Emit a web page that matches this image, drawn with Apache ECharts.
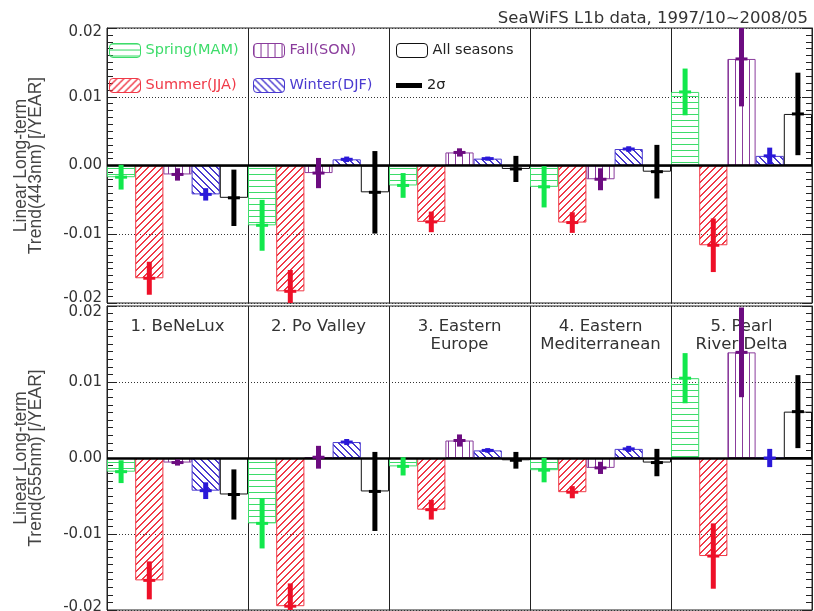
<!DOCTYPE html>
<html><head><meta charset="utf-8">
<script src="https://cdn.jsdelivr.net/npm/echarts@6.0.0/dist/echarts.min.js"></script>
<style>html,body{margin:0;padding:0;background:#fff}#c{width:814px;height:611px}</style>
</head><body><div id="c"></div><script>
// ---------- data ----------
const regions = ['1. BeNeLux', '2. Po Valley', '3. Eastern\nEurope', '4. Eastern\nMediterranean', '5. Pearl\nRiver Delta'];
const seasons = ['Spring(MAM)', 'Summer(JJA)', 'Fall(SON)', 'Winter(DJF)', 'All seasons'];
const sigmaName = '2σ';
const yTicks = [-0.02, -0.01, 0.00, 0.01, 0.02];

// 443 nm trends [/YEAR], one value per region
const t443Spring = [-0.0017, -0.0087, -0.0029, -0.0031, 0.0107];
const t443Summer = [-0.0164, -0.0183, -0.0082, -0.0083, -0.0116];
const t443Fall   = [-0.0013, -0.0011, 0.0019, -0.0020, 0.0155];
const t443Winter = [-0.0042, 0.0009, 0.0010, 0.0024, 0.0014];
const t443All    = [-0.0047, -0.0039, -0.0005, -0.0009, 0.0075];
// 443 nm 2-sigma
const s443Spring = [0.0018, 0.0037, 0.0018, 0.0030, 0.0034];
const s443Summer = [0.0024, 0.0031, 0.0015, 0.0015, 0.0039];
const s443Fall   = [0.0009, 0.0022, 0.0006, 0.0016, 0.0069];
const s443Winter = [0.0009, 0.0004, 0.0003, 0.0004, 0.0012];
const s443All    = [0.0041, 0.0060, 0.0019, 0.0039, 0.0060];

// 555 nm trends [/YEAR]
const t555Spring = [-0.0018, -0.0086, -0.0011, -0.0016, 0.0105];
const t555Summer = [-0.0161, -0.0195, -0.0068, -0.0045, -0.0129];
const t555Fall   = [-0.0006, 0.0001, 0.0023, -0.0013, 0.0139];
const t555Winter = [-0.0043, 0.0021, 0.0010, 0.0012, 0.0000];
const t555All    = [-0.0048, -0.0044, -0.0003, -0.0006, 0.0061];
// 555 nm 2-sigma
const s555Spring = [0.0015, 0.0033, 0.0012, 0.0016, 0.0033];
const s555Summer = [0.0025, 0.0030, 0.0013, 0.0008, 0.0043];
const s555Fall   = [0.0004, 0.0015, 0.0008, 0.0008, 0.0059];
const s555Winter = [0.0011, 0.0004, 0.0003, 0.0004, 0.0012];
const s555All    = [0.0033, 0.0052, 0.0011, 0.0018, 0.0048];

// ---------- styling ----------
const lineColors = ['#3ddc6a', '#f03a48', '#8a3c9c', '#4a3ad0', '#111111'];
const errColors  = ['#12e84c', '#ee1028', '#6c0c80', '#2a18d8', '#000000'];
const hatchKinds = ['h', 'd1', 'v', 'd2', null];
const FONT = 'DejaVu Sans';

// crisp pixel hatch tiles
function pattern(kind, color) {
  const s = kind === 'h' ? 6 : 7;
  const c = document.createElement('canvas');
  c.width = s; c.height = s;
  const g = c.getContext('2d');
  g.fillStyle = color;
  for (let i = 0; i < s; i++) {
    if (kind === 'h') g.fillRect(i, 0, 1, 1);
    else if (kind === 'v') g.fillRect(0, i, 1, 1);
    else if (kind === 'd1') { g.fillRect(i, s - 1 - i, 1, 1); g.fillRect((i + 1) % s, s - 1 - i, 1, 1); }
    else { g.fillRect(i, i, 1, 1); g.fillRect((i + 1) % s, i, 1, 1); }
  }
  return { image: c, repeat: 'repeat' };
}

const trend443 = [t443Spring, t443Summer, t443Fall, t443Winter, t443All];
const sig443 = [s443Spring, s443Summer, s443Fall, s443Winter, s443All];
const trend555 = [t555Spring, t555Summer, t555Fall, t555Winter, t555All];
const sig555 = [s555Spring, s555Summer, s555Fall, s555Winter, s555All];

function barSeries(gi, trend) {
  return seasons.map((name, k) => {
    const s = {
      type: 'bar', name, xAxisIndex: gi, yAxisIndex: gi * 2,
      data: trend[k], barGap: '0%', barCategoryGap: '0%',
      itemStyle: {
        color: k === 4 ? 'rgba(255,255,255,0)' : pattern(hatchKinds[k], lineColors[k]),
        borderColor: lineColors[k], borderWidth: 1
      },
      emphasis: { disabled: true }, silent: true
    };
    if (k === 0) {
      s.markLine = {
        silent: true, symbol: ['none', 'none'], label: { show: false },
        lineStyle: { color: '#000', width: 2.5, type: 'solid' },
        emphasis: { disabled: true },
        data: [{ yAxis: 0 }]
      };
    }
    return s;
  });
}

function errSeries(gi, trend, sig) {
  return seasons.map((name, k) => ({
    type: 'custom', name: k === 4 ? sigmaName : name,
    xAxisIndex: gi, yAxisIndex: gi * 2, z: 6, silent: true,
    itemStyle: { color: errColors[k] },
    data: trend[k].map((v, i) => [i, v - sig[k][i], v + sig[k][i], v]),
    encode: { x: 0, y: [1, 2, 3] },
    renderItem: (params, api) => {
      const i = api.value(0);
      const band = api.size([1, 0])[0];
      const cx = api.coord([i, 0])[0] + (k - 2) * band / 5;
      const yLo = api.coord([i, api.value(1)])[1];
      const yHi = api.coord([i, api.value(2)])[1];
      const yV = api.coord([i, api.value(3)])[1];
      const cs = params.coordSys;
      const box = { x: cs.x, y: cs.y, width: cs.width, height: cs.height };
      const style = { fill: errColors[k] };
      const children = [];
      const r1 = echarts.graphic.clipRectByRect({ x: cx - 2.5, y: yHi, width: 5, height: yLo - yHi }, box);
      if (r1) children.push({ type: 'rect', shape: r1, style });
      const r2 = echarts.graphic.clipRectByRect({ x: cx - 6, y: yV - 1.5, width: 12, height: 3 }, box);
      if (r2) children.push({ type: 'rect', shape: r2, style });
      return { type: 'group', children };
    }
  }));
}

function yAxes(gi, name, padTop, padBot) {
  const tick = { show: true, inside: true, length: 10, lineStyle: { color: '#222' } };
  const minor = { show: true, splitNumber: 10, length: 6, lineStyle: { color: '#222' } };
  const lbl = { fontFamily: FONT, fontSize: 15, color: '#333' };
  return [{
    type: 'value', gridIndex: gi, position: 'left',
    min: yTicks[0], max: yTicks[yTicks.length - 1], interval: 0.01,
    name, nameLocation: 'middle', nameRotate: 90, nameGap: 63,
    nameTextStyle: { fontFamily: 'Liberation Sans', fontSize: 17.5, lineHeight: 15, color: '#444' },
    axisLine: { show: true, lineStyle: { color: '#222' } },
    axisTick: tick, minorTick: minor,
    axisLabel: Object.assign({
      margin: 5,
      formatter: v => {
        const s = (Math.abs(v) < 1e-9 ? 0 : v).toFixed(2);
        if (v > 0.0199) return '{t|' + s + '}';
        if (v < -0.0199) return '{b|' + s + '}';
        return s;
      },
      rich: {
        t: Object.assign({ padding: [padTop, 0, 0, 0] }, lbl),
        b: Object.assign({ padding: [0, 0, padBot, 0] }, lbl)
      }
    }, lbl),
    splitLine: { show: true, lineStyle: { color: '#333', type: [1, 2], width: 1 } }
  }, {
    type: 'value', gridIndex: gi, position: 'right',
    min: yTicks[0], max: yTicks[yTicks.length - 1], interval: 0.01,
    axisLine: { show: true, lineStyle: { color: '#222' } },
    axisTick: tick, minorTick: minor,
    axisLabel: { show: false }, splitLine: { show: false }
  }];
}

const xSplit = { show: true, interval: 0, lineStyle: { color: '#222', width: 1, type: 'solid' } };

const legendCommon = {
  orient: 'vertical', padding: 0, itemWidth: 31, itemHeight: 14, itemGap: 20,
  selectedMode: false,
  textStyle: { fontFamily: FONT, fontSize: 14.5 },
  itemStyle: { borderWidth: 1 }
};

const option = {
  animation: false,
  backgroundColor: '#fff',
  title: {
    text: 'SeaWiFS L1b data, 1997/10~2008/05', right: 1, top: 5,
    textStyle: { fontFamily: FONT, fontSize: 16.5, fontWeight: 'normal', color: '#333' }
  },
  legend: [
    Object.assign({}, legendCommon, { left: 109, top: 43,
      data: [{ name: seasons[0], textStyle: { color: lineColors[0] } }, { name: seasons[1], textStyle: { color: lineColors[1] } }] }),
    Object.assign({}, legendCommon, { left: 253, top: 43,
      data: [{ name: seasons[2], textStyle: { color: lineColors[2] } }, { name: seasons[3], textStyle: { color: lineColors[3] } }] }),
    Object.assign({}, legendCommon, { left: 396, top: 43,
      data: [{ name: seasons[4], textStyle: { color: '#222' } }] }),
    Object.assign({}, legendCommon, { left: 396, top: 78, itemWidth: 26, itemHeight: 5,
      data: [{ name: sigmaName, icon: 'rect', textStyle: { color: '#222' } }] })
  ],
  grid: [
    { left: 107, right: 2, top: 28, height: 275, show: true, borderColor: '#222', borderWidth: 1, containLabel: false, outerBoundsMode: 'none' },
    { left: 107, right: 2, top: 306, height: 304, show: true, borderColor: '#222', borderWidth: 1, containLabel: false, outerBoundsMode: 'none' }
  ],
  xAxis: [
    { type: 'category', gridIndex: 0, data: regions, position: 'bottom',
      axisLine: { show: false }, axisTick: { show: false }, axisLabel: { show: false }, splitLine: xSplit },
    { type: 'category', gridIndex: 1, data: regions, position: 'top',
      axisLine: { show: false }, axisTick: { show: false },
      axisLabel: { show: true, inside: true, interval: 0, margin: 12, fontFamily: FONT, fontSize: 16.5, lineHeight: 18, color: '#333' },
      splitLine: xSplit }
  ],
  yAxis: [].concat(
    yAxes(0, 'Linear Long-term\nTrend(443nm) [/YEAR]', 9, 10),
    yAxes(1, 'Linear Long-term\nTrend(555nm) [/YEAR]', 12, 6)
  ),
  series: [].concat(
    barSeries(0, trend443), barSeries(1, trend555),
    errSeries(0, trend443, sig443), errSeries(1, trend555, sig555)
  )
};

const chart = echarts.init(document.getElementById('c'), null, { renderer: 'canvas' });
chart.setOption(option);
</script></body></html>
